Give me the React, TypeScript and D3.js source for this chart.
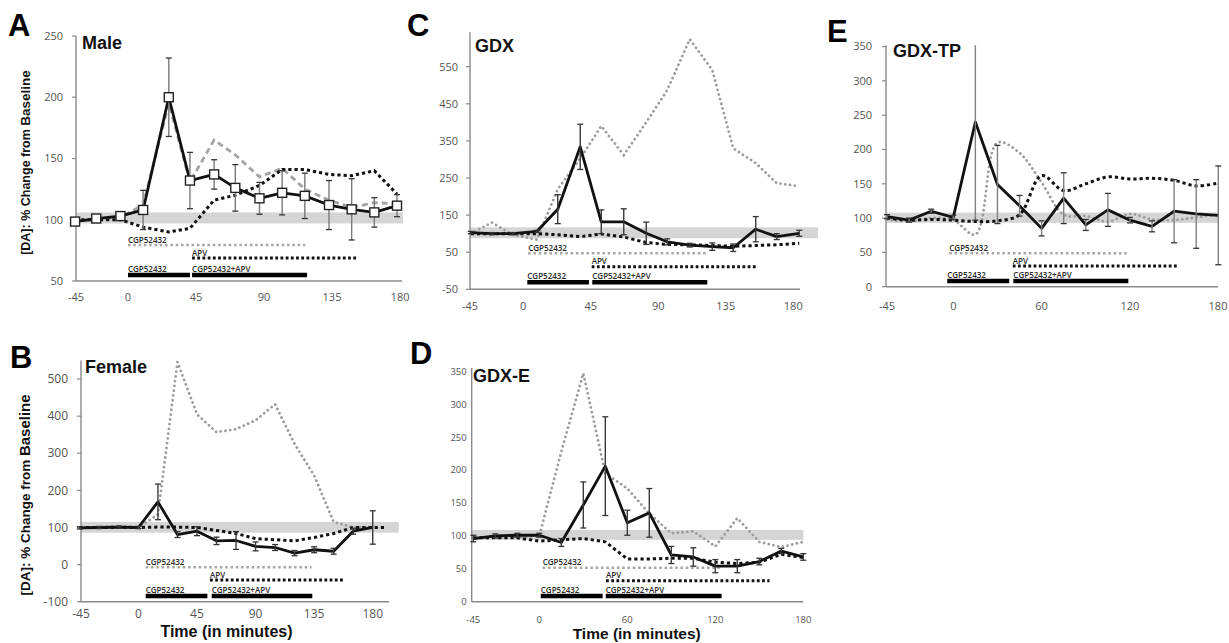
import React from 'react';
import * as d3 from 'd3';

const FONT_BOLD = '"Liberation Sans", Arial, Helvetica, sans-serif';
const FONT_TICK = '"Open Sans", "Liberation Sans", sans-serif';

// ---------- shared tick labels (minutes) ----------
const xTicks45 = [-45, 0, 45, 90, 135, 180];
const xTicks60 = [-45, 0, 60, 120, 180];

// ---------- A: Male ----------
const maleTimes = [-35, -21, -5, 10, 27, 41, 57, 71, 87, 102, 117, 133, 148, 163, 178];
const maleCombo = [98.5, 101, 103, 108, 200, 132, 137, 126, 117.5, 122, 119.5, 112, 108.5, 106, 111.5];
const maleComboSem = [2, 2, 2, 16, 32, 23, 12, 19, 13, 18, 18.5, 20, 25, 12, 9];
const maleCgp = [99, 100, 102, 112, 195, 131, 165, 153, 135, 142, 125, 116, 110, 114, 113];
const maleApv = [100, 100, 100, 94, 90, 93, 116, 120, 128, 141, 141, 137, 136, 140, 121];
const maleBand = [97, 106];
const maleYTicks = [50, 100, 150, 200, 250];

// ---------- B: Female ----------
const femaleTimes = [-45, -30, -15, 0, 15, 30, 45, 60, 75, 90, 105, 120, 135, 150, 165, 180];
const femaleCombo = [99, 100, 101, 100, 169, 81, 90, 64, 65, 49, 46, 31, 40, 36, 90, 100];
const femaleComboSem = [3, 3, 3, 3, 48, 8, 12, 10, 24, 12, 8, 7, 8, 8, 8, 45];
const femaleCgp = [100, 100, 100, 100, 135, 546, 405, 357, 365, 389, 432, 325, 240, 115, 100, 100];
const femaleApvTimes = [-45, -30, -15, 0, 15, 30, 45, 60, 75, 90, 105, 120, 135, 150, 165, 180, 190];
const femaleApv = [100, 100, 101, 100, 101, 101, 100, 92, 84, 70, 67, 64, 73, 84, 100, 100, 100];
const femaleBand = [86, 115];
const femaleYTicks = [-100, 0, 100, 200, 300, 400, 500];

// ---------- C: GDX ----------
const gdxTimes = [-35, -21, -7, 9, 23, 38, 52, 67, 82, 96, 111, 126, 140, 155, 169, 184];
const gdxCombo = [103, 100, 100, 106, 166, 334, 132, 132, 101, 78, 69, 65, 62, 112, 92, 101];
const gdxComboSem = [3, 3, 3, 3, 39, 61, 32, 35, 30, 8, 5, 10, 10, 34, 8, 8];
const gdxCgp = [100, 130, 97, 84, 220, 303, 390, 312, 400, 487, 624, 541, 330, 290, 236, 228];
const gdxApv = [100, 100, 100, 100, 97, 92, 99, 91, 76, 71, 70, 68, 66, 68, 70, 74];
const gdxBand = [87.5, 117];
const gdxYTicks = [-50, 50, 150, 250, 350, 450, 550];

// ---------- D: GDX-E ----------
const gdxETimes = [-45, -30, -15, 0, 15, 30, 45, 60, 75, 90, 105, 120, 135, 150, 165, 180];
const gdxECombo = [96, 100, 101, 101, 90, 147, 206, 120, 135, 71, 68, 54, 54, 61, 77, 68];
const gdxEComboSem = [5, 3, 3, 3, 6, 35, 75, 19, 37, 13, 14, 10, 10, 5, 4, 5];
const gdxECgp = [97, 97, 98, 100, 228, 347, 195, 172, 134, 104, 107, 84, 127, 91, 83, 91];
const gdxEApv = [97, 97, 97, 92, 94, 96, 91, 65, 65, 66, 66, 60, 58, 60, 72, 67];
const gdxEBand = [94, 109];
const gdxEYTicks = [0, 50, 100, 150, 200, 250, 300, 350];

// ---------- E: GDX-TP ----------
const gdxTPTimes = [-45, -30, -15, 0, 15, 30, 45, 60, 75, 90, 105, 120, 135, 150, 165, 180];
const gdxTPCombo = [102, 97, 110, 101, 240, 149, 118, 85, 129, 90, 112, 97, 88, 110, 106, 104];
const gdxTPComboSem = [3, 3, 3, 3, 143, 57, 15, 11, 37, 8, 24, 4, 8, 46, 50, 72];
const gdxTPCgp = [98, 95, 100, 97, 76, 210, 195, 152, 105, 103, 95, 106, 98, 97, 101, 105];
const gdxTPApv = [100, 97, 98, 97, 95, 96, 105, 162, 140, 150, 160, 157, 158, 155, 147, 151];
const gdxTPBand = [93, 108];
const gdxTPYTicks = [0, 50, 100, 150, 200, 250, 300, 350];

// ---------- drug application windows (min) ----------
const maleCgpSpan = [0, 118.5], maleApvSpan = [42.4, 152], maleBar1 = [0, 41], maleBar2 = [42.4, 118.5];
const femaleCgpSpan = [5.6, 133], femaleApvSpan = [55, 158.7], femaleBar1 = [5.6, 53], femaleBar2 = [56.3, 133.6];
const gdxCgpSpan = [3.3, 122.3], gdxApvSpan = [45.6, 155.6], gdxBar1 = [2.7, 43.8], gdxBar2 = [46, 122.7];
const gdxECgpSpan = [2.3, 123], gdxEApvSpan = [45.5, 157], gdxEBar1 = [1, 43.2], gdxEBar2 = [45.3, 124.3];
const gdxTPCgpSpan = [-2.7, 118.9], gdxTPApvSpan = [40.4, 151.8], gdxTPBar1 = [-4.1, 38], gdxTPBar2 = [40.8, 118.9];

type Span = number[];

interface PanelCfg {
  letter: string;
  letterPos: [number, number];
  title: string;
  titlePos: [number, number];
  times: number[];
  combo: number[];
  comboSem: number[];
  cgp: number[];
  apv: number[];
  apvTimes?: number[];
  band: number[];
  bandEnd: number;
  yTicks: number[];
  xTicks: number[];
  cgpSpan: Span;
  apvSpan: Span;
  bar1: Span;
  bar2: Span;
  xDomain: [number, number];
  xRange: [number, number];
  yDomain: [number, number];
  yRange: [number, number];
  xLabelY: number;
  tickFont: number;
  tickGap: number;
  tickLen: number;
  treatOffsets: [number, number, number];
  markers?: boolean;
  cgpStyle: 'dash' | 'dot';
  smoothDotted?: boolean;
  errColor: string;
}

const panels: PanelCfg[] = [
  {
    letter: 'A', letterPos: [8, 36], title: 'Male', titlePos: [82, 49],
    times: maleTimes, combo: maleCombo, comboSem: maleComboSem, cgp: maleCgp, apv: maleApv,
    band: maleBand, bandEnd: 182, yTicks: maleYTicks, xTicks: xTicks45,
    cgpSpan: maleCgpSpan, apvSpan: maleApvSpan, bar1: maleBar1, bar2: maleBar2,
    xDomain: [-34.4, 181.3], xRange: [76, 402], yDomain: [50, 250], yRange: [281, 36],
    xLabelY: 301, tickFont: 11, tickGap: 13, tickLen: 4, treatOffsets: [36, 23, 6],
    markers: true, cgpStyle: 'dash', errColor: '#7a7a7a',
  },
  {
    letter: 'B', letterPos: [10, 368], title: 'Female', titlePos: [85, 373],
    times: femaleTimes, combo: femaleCombo, comboSem: femaleComboSem, cgp: femaleCgp, apv: femaleApv,
    apvTimes: femaleApvTimes,
    band: femaleBand, bandEnd: 200, yTicks: femaleYTicks, xTicks: xTicks45,
    cgpSpan: femaleCgpSpan, apvSpan: femaleApvSpan, bar1: femaleBar1, bar2: femaleBar2,
    xDomain: [-44.1, 192.5], xRange: [81, 389], yDomain: [-100, 550], yRange: [601.7, 360.5],
    xLabelY: 618, tickFont: 12, tickGap: 13, tickLen: 4, treatOffsets: [34.4, 21.7, 5.7],
    cgpStyle: 'dot', errColor: '#3a3a3a',
  },
  {
    letter: 'C', letterPos: [407, 36], title: 'GDX', titlePos: [475, 52],
    times: gdxTimes, combo: gdxCombo, comboSem: gdxComboSem, cgp: gdxCgp, apv: gdxApv,
    band: gdxBand, bandEnd: 196.5, yTicks: gdxYTicks, xTicks: xTicks45,
    cgpSpan: gdxCgpSpan, apvSpan: gdxApvSpan, bar1: gdxBar1, bar2: gdxBar2,
    xDomain: [-35.5, 184.5], xRange: [470, 800], yDomain: [-50, 643], yRange: [289.3, 32.2],
    xLabelY: 310, tickFont: 11, tickGap: 12, tickLen: 4, treatOffsets: [36, 22.6, 7],
    cgpStyle: 'dot', errColor: '#3a3a3a',
  },
  {
    letter: 'D', letterPos: [410, 364], title: 'GDX-E', titlePos: [473, 381.5],
    times: gdxETimes, combo: gdxECombo, comboSem: gdxEComboSem, cgp: gdxECgp, apv: gdxEApv,
    band: gdxEBand, bandEnd: 180, yTicks: gdxEYTicks, xTicks: xTicks60,
    cgpSpan: gdxECgpSpan, apvSpan: gdxEApvSpan, bar1: gdxEBar1, bar2: gdxEBar2,
    xDomain: [-46.1, 180], xRange: [471.7, 803.3], yDomain: [0, 355], yRange: [601.7, 368.1],
    xLabelY: 622.5, tickFont: 9.5, tickGap: 5, tickLen: 0, treatOffsets: [34, 21, 5.7],
    cgpStyle: 'dot', errColor: '#3a3a3a',
  },
  {
    letter: 'E', letterPos: [827, 42], title: 'GDX-TP', titlePos: [893, 57],
    times: gdxTPTimes, combo: gdxTPCombo, comboSem: gdxTPComboSem, cgp: gdxTPCgp, apv: gdxTPApv,
    band: gdxTPBand, bandEnd: 180, yTicks: gdxTPYTicks, xTicks: xTicks60,
    cgpSpan: gdxTPCgpSpan, apvSpan: gdxTPApvSpan, bar1: gdxTPBar1, bar2: gdxTPBar2,
    xDomain: [-45.7, 179.8], xRange: [886, 1218], yDomain: [0, 352], yRange: [286.7, 45.2],
    xLabelY: 310, tickFont: 11, tickGap: 14, tickLen: 4, treatOffsets: [33.4, 20.7, 5.7],
    cgpStyle: 'dot', smoothDotted: true, errColor: '#808080',
  },
];

const AXIS = '#8a8a8a';
const TICK_TEXT = '#555';

function Panel({ p }: { p: PanelCfg }) {
  const x = d3.scaleLinear().domain(p.xDomain).range(p.xRange);
  const xTick = x.copy().clamp(true);
  const y = d3.scaleLinear().domain(p.yDomain).range(p.yRange);
  const yClamp = y.copy().clamp(true);
  const [left, right] = p.xRange;
  const bottom = p.yRange[0];
  const top = p.yRange[1];

  const straight = d3
    .line<[number, number]>()
    .x((d) => x(d[0]))
    .y((d) => y(d[1]));
  const smooth = d3
    .line<[number, number]>()
    .x((d) => x(d[0]))
    .y((d) => y(d[1]))
    .curve(d3.curveCatmullRom.alpha(0.5));
  const dotted = p.smoothDotted ? smooth : straight;

  const pairs = (ts: number[], vs: number[]) => ts.map((t, i) => [t, vs[i]] as [number, number]);

  const gy = bottom - p.treatOffsets[0];
  const ay = bottom - p.treatOffsets[1];
  const by = bottom - p.treatOffsets[2];
  const tFont = { fontFamily: FONT_TICK, fontSize: 8, fontWeight: 600, fill: '#2a2a2a' } as const;

  return (
    <g>
      {/* panel letter and title */}
      <text x={p.letterPos[0]} y={p.letterPos[1]} fontFamily={FONT_BOLD} fontWeight={700} fontSize={31} fill="#000">
        {p.letter}
      </text>
      <text x={p.titlePos[0]} y={p.titlePos[1]} fontFamily={FONT_BOLD} fontWeight={700} fontSize={18} fill="#111">
        {p.title}
      </text>

      {/* baseline band */}
      <rect
        x={x(p.xDomain[0])}
        width={x(p.bandEnd) - x(p.xDomain[0])}
        y={y(p.band[1])}
        height={y(p.band[0]) - y(p.band[1])}
        fill="#d5d5d5"
      />

      {/* axes */}
      <line x1={left} x2={left} y1={top} y2={bottom} stroke={AXIS} strokeWidth={1.4} />
      <line x1={left} x2={right} y1={bottom} y2={bottom} stroke={AXIS} strokeWidth={1.4} />
      {p.yTicks.map((v) => (
        <g key={'y' + v}>
          {p.tickLen > 0 && (
            <line x1={left - p.tickLen} x2={left} y1={y(v)} y2={y(v)} stroke={AXIS} strokeWidth={1.2} />
          )}
          <text
            x={left - p.tickGap}
            y={y(v)}
            dy="0.35em"
            textAnchor="end"
            fontFamily={FONT_TICK}
            fontSize={p.tickFont}
            fill={TICK_TEXT}
          >
            {v}
          </text>
        </g>
      ))}
      {p.xTicks.map((t) => (
        <text
          key={'x' + t}
          x={xTick(t)}
          y={p.xLabelY}
          textAnchor="middle"
          fontFamily={FONT_TICK}
          fontSize={p.tickFont}
          fill={TICK_TEXT}
        >
          {t}
        </text>
      ))}

      {/* drug application markers */}
      <line x1={x(p.cgpSpan[0])} x2={x(p.cgpSpan[1])} y1={gy} y2={gy} stroke="#a5a5a5" strokeWidth={2.5} strokeDasharray="2.5,2.8" />
      <text x={x(p.cgpSpan[0])} y={gy - 2.5} {...tFont}>CGP52432</text>
      <line x1={x(p.apvSpan[0])} x2={x(p.apvSpan[1])} y1={ay} y2={ay} stroke="#111" strokeWidth={3} strokeDasharray="2.8,2.4" />
      <text x={x(p.apvSpan[0])} y={ay - 2.5} {...tFont}>APV</text>
      <line x1={x(p.bar1[0])} x2={x(p.bar1[1])} y1={by} y2={by} stroke="#000" strokeWidth={4.5} />
      <text x={x(p.bar1[0])} y={by - 3.5} {...tFont}>CGP52432</text>
      <line x1={x(p.bar2[0])} x2={x(p.bar2[1])} y1={by} y2={by} stroke="#000" strokeWidth={4.5} />
      <text x={x(p.bar2[0])} y={by - 3.5} {...tFont}>CGP52432+APV</text>

      {/* CGP52432 alone */}
      {p.cgpStyle === 'dash' ? (
        <path d={straight(pairs(p.times, p.cgp)) || ''} fill="none" stroke="#a3a3a3" strokeWidth={2.8} strokeDasharray="6,4" />
      ) : (
        <path
          d={dotted(pairs(p.times, p.cgp)) || ''}
          fill="none"
          stroke="#9c9c9c"
          strokeWidth={2.8}
          strokeLinecap="round"
          strokeDasharray="0.01,4.8"
        />
      )}

      {/* APV alone */}
      <path
        d={dotted(pairs(p.apvTimes || p.times, p.apv)) || ''}
        fill="none"
        stroke="#111"
        strokeWidth={3}
        strokeDasharray="3.2,3"
      />

      {/* CGP52432 then CGP52432+APV */}
      <path d={straight(pairs(p.times, p.combo)) || ''} fill="none" stroke="#111" strokeWidth={2.8} strokeLinejoin="round" />

      {/* SEM error bars */}
      {p.times.map((t, i) => {
        const hi = p.combo[i] + p.comboSem[i];
        const lo = p.combo[i] - p.comboSem[i];
        const cx = x(t);
        const clipped = hi > p.yDomain[1];
        return (
          <g key={'e' + i}>
            <line x1={cx} x2={cx} y1={yClamp(hi)} y2={yClamp(lo)} stroke={p.errColor} strokeWidth={1.4} />
            {!clipped && <line x1={cx - 3} x2={cx + 3} y1={y(hi)} y2={y(hi)} stroke="#333" strokeWidth={1.3} />}
            <line x1={cx - 3} x2={cx + 3} y1={y(lo)} y2={y(lo)} stroke="#333" strokeWidth={1.3} />
          </g>
        );
      })}

      {p.markers &&
        p.times.map((t, i) => (
          <rect
            key={'m' + i}
            x={x(t) - 4.5}
            y={y(p.combo[i]) - 4.5}
            width={9}
            height={9}
            fill="#fff"
            stroke="#222"
            strokeWidth={1.4}
          />
        ))}
    </g>
  );
}

function YTitle({ x, y, small, big }: { x: number; y: number; small: number; big: number }) {
  return (
    <text
      transform={`translate(${x},${y}) rotate(-90)`}
      textAnchor="middle"
      fontFamily={FONT_BOLD}
      fontWeight={700}
      fill="#111"
    >
      <tspan fontSize={small}>[DA]: % Change from </tspan>
      <tspan fontSize={big}>Baseline</tspan>
    </text>
  );
}

export default function App() {
  return (
    <svg
      width={1229}
      height={643}
      viewBox="0 0 1229 643"
      style={{ position: 'absolute', left: 0, top: 0, background: '#fff', display: 'block' }}
    >
      <rect width={1229} height={643} fill="#fff" />
      {panels.map((p) => (
        <Panel key={p.letter} p={p} />
      ))}
      <YTitle x={29.5} y={162.5} small={12.5} big={13.5} />
      <YTitle x={30} y={495} small={13.5} big={15} />
      <text x={226.5} y={637} textAnchor="middle" fontFamily={FONT_BOLD} fontWeight={700} fontSize={16} fill="#111">
        Time (in minutes)
      </text>
      <text x={636.7} y={639} textAnchor="middle" fontFamily={FONT_BOLD} fontWeight={700} fontSize={15.5} fill="#111">
        Time (in minutes)
      </text>
    </svg>
  );
}
